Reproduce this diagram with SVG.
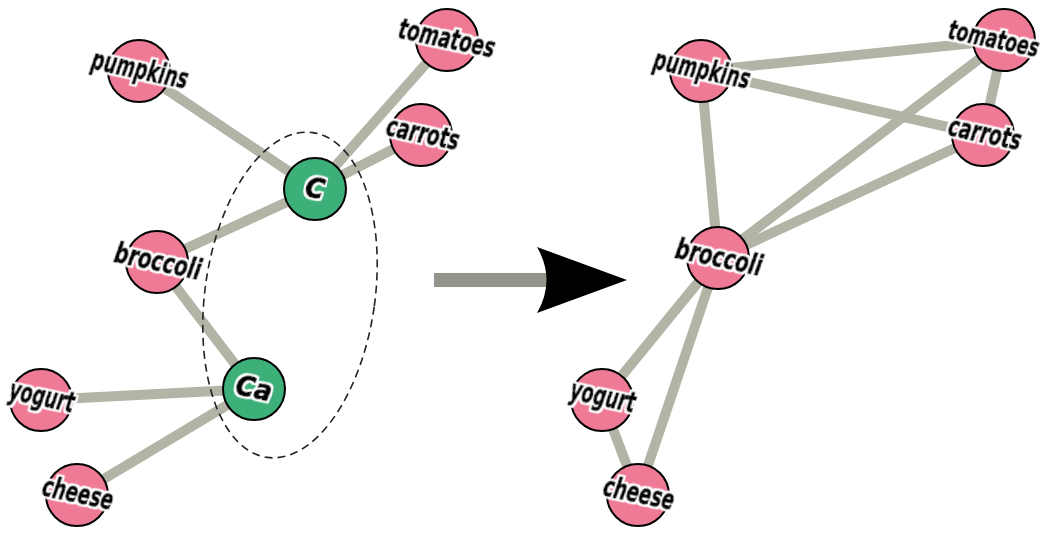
<svg xmlns="http://www.w3.org/2000/svg" width="1059" height="534" viewBox="0 0 1059 534">
<defs>
<filter id="halo" x="-5%" y="-15%" width="110%" height="130%">
<feMorphology in="SourceAlpha" operator="dilate" radius="1.8" result="d"/>
<feFlood flood-color="#fff"/>
<feComposite in2="d" operator="in" result="w"/>
<feMerge><feMergeNode in="w"/><feMergeNode in="SourceGraphic"/></feMerge>
</filter>
</defs>
<style>
.edge{stroke:#b3b3a6;stroke-width:10;fill:none}
.food{fill:#ef7a95;stroke:#000;stroke-width:2}
.nutr{fill:#3db07a;stroke:#000;stroke-width:2}
.lbl{font-family:"DejaVu Sans Condensed","DejaVu Sans",sans-serif;font-stretch:condensed;font-weight:bold;font-style:oblique;font-size:29px;fill:#000;stroke:#000;stroke-width:1.1;stroke-linejoin:round;text-anchor:middle;dominant-baseline:central;filter:url(#halo)}
</style>
<rect width="1059" height="534" fill="#fff"/>
<g id="connectors">
<line class="edge" x1="139" y1="71" x2="315" y2="189"/>
<line class="edge" x1="447" y1="40" x2="315" y2="189"/>
<line class="edge" x1="421" y1="135" x2="315" y2="189"/>
<line class="edge" x1="157" y1="262" x2="315" y2="189"/>
<line class="edge" x1="157" y1="262" x2="254" y2="389"/>
<line class="edge" x1="41" y1="400" x2="254" y2="389"/>
<line class="edge" x1="77" y1="495" x2="254" y2="389"/>
<line class="edge" x1="701" y1="71" x2="1004" y2="40"/>
<line class="edge" x1="701" y1="71" x2="983" y2="135"/>
<line class="edge" x1="701" y1="71" x2="718" y2="258"/>
<line class="edge" x1="1004" y1="40" x2="983" y2="135"/>
<line class="edge" x1="1004" y1="40" x2="718" y2="258"/>
<line class="edge" x1="983" y1="135" x2="718" y2="258"/>
<line class="edge" x1="718" y1="258" x2="602" y2="400"/>
<line class="edge" x1="718" y1="258" x2="638" y2="495"/>
<line class="edge" x1="602" y1="400" x2="638" y2="495"/>
</g>
<ellipse id="group-outline" cx="290" cy="295" rx="85" ry="164" transform="rotate(8 290 295)" fill="none" stroke="#222" stroke-width="1.6" stroke-dasharray="8 5"/>
<g id="transform-arrow">
<line x1="434" y1="280" x2="548" y2="280" stroke="#94948a" stroke-width="14"/>
<path d="M627,280 L537,247 Q556,280 537,313 Z" fill="#000"/>
</g>
<g id="L-pumpkins"><circle class="food" cx="139" cy="71" r="31"/><text class="lbl" x="140" y="69" transform="rotate(12 140 69)" textLength="98" lengthAdjust="spacingAndGlyphs">pumpkins</text></g>
<g id="L-tomatoes"><circle class="food" cx="447" cy="40" r="31"/><text class="lbl" x="447" y="38" transform="rotate(12 447 38)" textLength="98" lengthAdjust="spacingAndGlyphs">tomatoes</text></g>
<g id="L-carrots"><circle class="food" cx="421" cy="135" r="31"/><text class="lbl" x="423" y="133" transform="rotate(12 423 133)" textLength="74" lengthAdjust="spacingAndGlyphs">carrots</text></g>
<g id="L-C"><circle class="nutr" cx="315" cy="189" r="31"/><text class="lbl" x="315" y="188" transform="rotate(12 315 188)">C</text></g>
<g id="L-broccoli"><circle class="food" cx="157" cy="262" r="31"/><text class="lbl" x="158" y="261" transform="rotate(12 158 261)" textLength="88" lengthAdjust="spacingAndGlyphs">broccoli</text></g>
<g id="L-Ca"><circle class="nutr" cx="254" cy="389" r="31"/><text class="lbl" x="254" y="388" transform="rotate(12 254 388)">Ca</text></g>
<g id="L-yogurt"><circle class="food" cx="41" cy="400" r="31"/><text class="lbl" x="42" y="396" transform="rotate(12 42 396)" textLength="66" lengthAdjust="spacingAndGlyphs">yogurt</text></g>
<g id="L-cheese"><circle class="food" cx="77" cy="495" r="31"/><text class="lbl" x="78" y="493" transform="rotate(12 78 493)" textLength="72" lengthAdjust="spacingAndGlyphs">cheese</text></g>
<g id="R-pumpkins"><circle class="food" cx="701" cy="71" r="31"/><text class="lbl" x="702" y="69" transform="rotate(12 702 69)" textLength="98" lengthAdjust="spacingAndGlyphs">pumpkins</text></g>
<g id="R-tomatoes"><circle class="food" cx="1004" cy="40" r="31"/><text class="lbl" x="994" y="38" transform="rotate(12 994 38)" textLength="92" lengthAdjust="spacingAndGlyphs" style="font-size:27px">tomatoes</text></g>
<g id="R-carrots"><circle class="food" cx="983" cy="135" r="31"/><text class="lbl" x="985" y="133" transform="rotate(12 985 133)" textLength="74" lengthAdjust="spacingAndGlyphs">carrots</text></g>
<g id="R-broccoli"><circle class="food" cx="718" cy="258" r="31"/><text class="lbl" x="719" y="257" transform="rotate(12 719 257)" textLength="88" lengthAdjust="spacingAndGlyphs">broccoli</text></g>
<g id="R-yogurt"><circle class="food" cx="602" cy="400" r="31"/><text class="lbl" x="603" y="396" transform="rotate(12 603 396)" textLength="66" lengthAdjust="spacingAndGlyphs">yogurt</text></g>
<g id="R-cheese"><circle class="food" cx="638" cy="495" r="31"/><text class="lbl" x="639" y="493" transform="rotate(12 639 493)" textLength="72" lengthAdjust="spacingAndGlyphs">cheese</text></g>
</svg>
